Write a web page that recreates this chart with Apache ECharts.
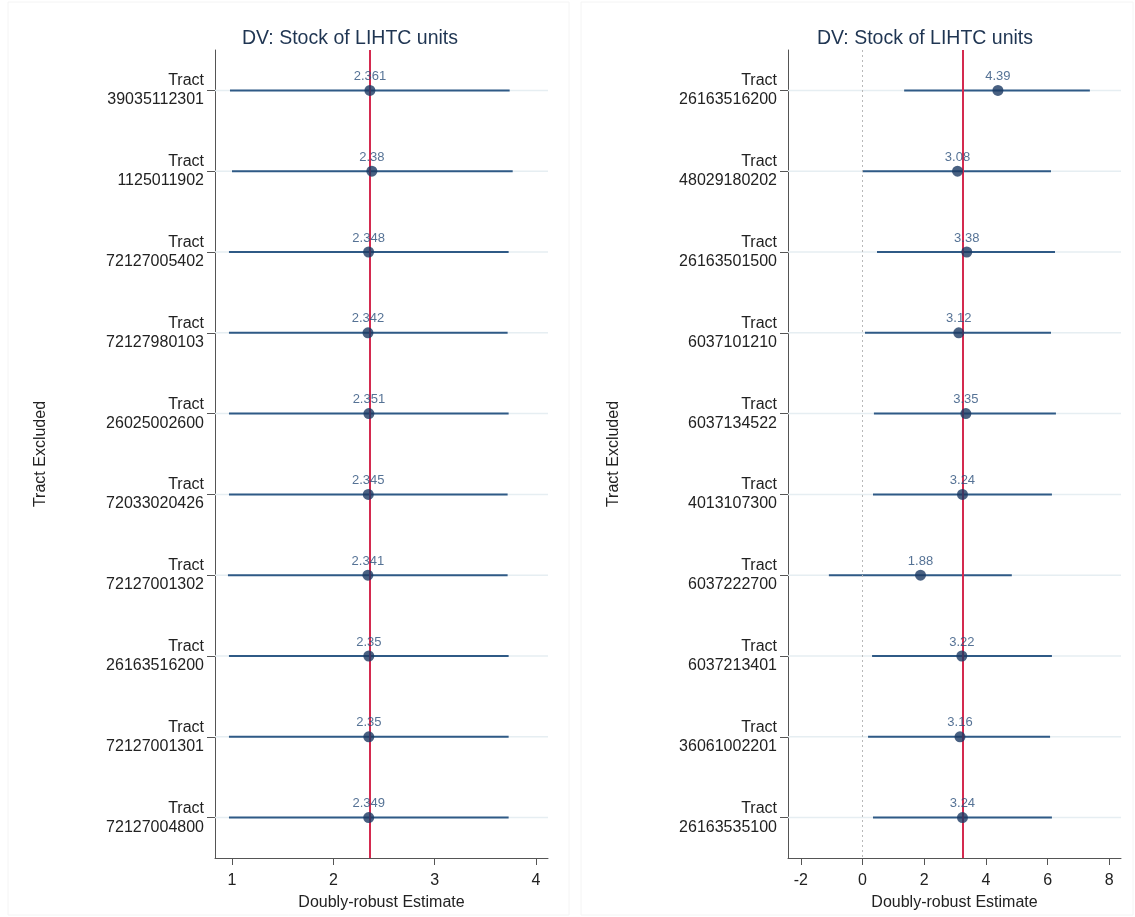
<!DOCTYPE html>
<html>
<head>
<meta charset="utf-8">
<script src="https://cdn.jsdelivr.net/npm/echarts@6/dist/echarts.min.js"></script>
<style>html,body{margin:0;padding:0;background:#fff;}#c{width:1135px;height:917px;}</style>
</head>
<body>
<div id="c"></div>
<script>
var leftTracts = ['39035112301','1125011902','72127005402','72127980103','26025002600','72033020426','72127001302','26163516200','72127001301','72127004800'];
var leftEst = [2.361, 2.38, 2.348, 2.342, 2.351, 2.345, 2.341, 2.35, 2.35, 2.349];
var leftLo  = [0.98, 1.00, 0.97, 0.97, 0.97, 0.97, 0.96, 0.97, 0.97, 0.97];
var leftHi  = [3.74, 3.77, 3.73, 3.72, 3.73, 3.72, 3.72, 3.73, 3.73, 3.73];
var leftRef = 2.36;
var leftTicks = [1, 2, 3, 4];

var rightTracts = ['26163516200','48029180202','26163501500','6037101210','6037134522','4013107300','6037222700','6037213401','36061002201','26163535100'];
var rightEst = [4.39, 3.08, 3.38, 3.12, 3.35, 3.24, 1.88, 3.22, 3.16, 3.24];
var rightLo  = [1.35, 0.00, 0.47, 0.08, 0.37, 0.34, -1.09, 0.31, 0.18, 0.34];
var rightHi  = [7.37, 6.11, 6.24, 6.11, 6.27, 6.14, 4.84, 6.14, 6.08, 6.14];
var rightRef = 3.24;
var rightTicks = [-2, 0, 2, 4, 6, 8];

var titleText = 'DV: Stock of LIHTC units';
var xName = 'Doubly-robust Estimate';
var yName = 'Tract Excluded';

var FONT = 'Liberation Sans, Arial, Helvetica, sans-serif';
var chart = echarts.init(document.getElementById('c'), null, {renderer: 'canvas'});

function ciData(lo, hi) { return lo.map(function (v, i) { return [v, hi[i], i]; }); }
function dotData(est) { return est.map(function (v, i) { return [v, i]; }); }

function bgRender(params, api) {
  var cs = params.coordSys;
  var p = api.coord([0, api.value(2)]);
  return {type: 'line', shape: {x1: cs.x, y1: p[1], x2: cs.x + cs.width, y2: p[1]},
          style: {stroke: '#e6eef2', lineWidth: 1.5}, silent: true};
}
function ciRender(params, api) {
  var a = api.coord([api.value(0), api.value(2)]);
  var b = api.coord([api.value(1), api.value(2)]);
  return {type: 'line', shape: {x1: a[0], y1: a[1], x2: b[0], y2: b[1]},
          style: {stroke: '#2f5a86', lineWidth: 2}};
}

function xAxisCfg(idx, min, max, ticks) {
  return {
    gridIndex: idx, type: 'value', min: min, max: max,
    name: xName, nameLocation: 'middle', nameGap: 37,
    nameTextStyle: {fontFamily: FONT, fontSize: 16, color: '#222'},
    axisLine: {show: true, onZero: false, lineStyle: {color: '#555', width: 1}},
    axisTick: {show: true, length: 7, customValues: ticks, lineStyle: {color: '#555'}},
    axisLabel: {customValues: ticks, margin: 15, fontFamily: FONT, fontSize: 16, color: '#222'},
    splitLine: {show: false}
  };
}
function yAxisCfg(idx, cats) {
  return {
    gridIndex: idx, type: 'category', data: cats, inverse: true, boundaryGap: true,
    name: yName, nameLocation: 'middle', nameGap: 166, nameRotate: 90,
    nameTextStyle: {fontFamily: FONT, fontSize: 16, color: '#222'},
    axisLine: {show: true, onZero: false, lineStyle: {color: '#555', width: 1}},
    axisTick: {show: true, alignWithLabel: true, length: 8, lineStyle: {color: '#555'}},
    axisLabel: {margin: 11, fontFamily: FONT, fontSize: 16, color: '#222', align: 'right', lineHeight: 19,
      formatter: function (v) { return 'Tract\n' + v; }},
    splitLine: {show: false}
  };
}
function seriesFor(idx, lo, hi, est, ref, withZero) {
  var ml = [{xAxis: ref, lineStyle: {color: '#d42a4f', width: 2, type: 'solid'}}];
  if (withZero) ml.unshift({xAxis: 0, lineStyle: {color: '#b8b8b8', width: 1, type: [2, 3]}});
  return [
    {type: 'custom', xAxisIndex: idx, yAxisIndex: idx, data: ciData(lo, hi), renderItem: bgRender, z: 1, silent: true},
    {type: 'custom', xAxisIndex: idx, yAxisIndex: idx, data: ciData(lo, hi), renderItem: ciRender, z: 3,
     markLine: {silent: true, symbol: 'none', label: {show: false}, data: ml, z: 4}},
    {type: 'scatter', xAxisIndex: idx, yAxisIndex: idx, data: dotData(est), symbol: 'circle', symbolSize: 11, z: 5,
     itemStyle: {color: '#1b3a63'},
     label: {show: true, position: 'top', distance: 2, fontFamily: FONT, fontSize: 13, color: '#2a4f7a',
       formatter: function (p) { return String(p.value[0]); }}}
  ];
}

var option = {
  backgroundColor: '#fff',
  animation: false,
  graphic: [
    {type: 'rect', shape: {x: 8, y: 2, width: 561, height: 913}, style: {fill: 'none', stroke: '#f4f4f4', lineWidth: 1}, silent: true},
    {type: 'rect', shape: {x: 581, y: 2, width: 552, height: 913}, style: {fill: 'none', stroke: '#f4f4f4', lineWidth: 1}, silent: true}
  ],
  title: [
    {text: titleText, left: 345, top: 24, textAlign: 'center', textStyle: {fontFamily: FONT, fontSize: 19.5, fontWeight: 'normal', color: '#1f3552'}},
    {text: titleText, left: 920, top: 24, textAlign: 'center', textStyle: {fontFamily: FONT, fontSize: 19.5, fontWeight: 'normal', color: '#1f3552'}}
  ],
  grid: [
    {left: 215, top: 50, width: 333, height: 808, containLabel: false, outerBoundsMode: 'none'},
    {left: 788, top: 50, width: 333, height: 808, containLabel: false, outerBoundsMode: 'none'}
  ],
  xAxis: [
    xAxisCfg(0, 1 - 17 / 101.33, 4 + 12 / 101.33, leftTicks),
    xAxisCfg(1, -74.5 / 30.85, 258.5 / 30.85, rightTicks)
  ],
  yAxis: [yAxisCfg(0, leftTracts), yAxisCfg(1, rightTracts)],
  series: [].concat(
    seriesFor(0, leftLo, leftHi, leftEst, leftRef, false),
    seriesFor(1, rightLo, rightHi, rightEst, rightRef, true)
  )
};
chart.setOption(option);
</script>
</body>
</html>
